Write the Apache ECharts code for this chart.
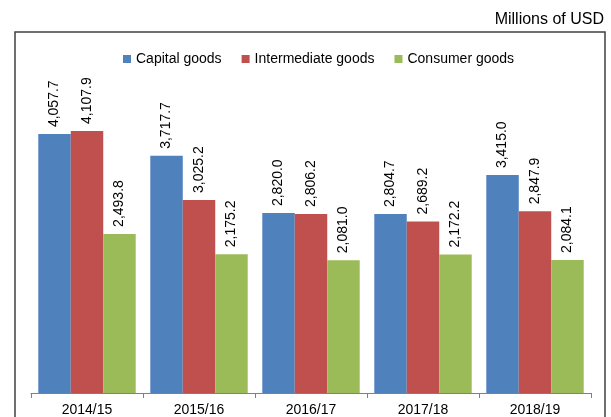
<!DOCTYPE html>
<html>
<head>
<meta charset="utf-8">
<script src="https://cdn.jsdelivr.net/npm/echarts@6/dist/echarts.min.js"></script>
<style>
  html, body { margin: 0; padding: 0; background: #fff; }
  #chart { width: 611px; height: 417px; }
</style>
</head>
<body>
<div id="chart"></div>
<script>
'use strict';
/* imports by broad category, millions of USD */

var years = ['2014/15', '2015/16', '2016/17', '2017/18', '2018/19'];
var capitalGoods = [4057.7, 3717.7, 2820.0, 2804.7, 3415.0];
var intermediateGoods = [4107.9, 3025.2, 2806.2, 2689.2, 2847.9];
var consumerGoods = [2493.8, 2175.2, 2081.0, 2172.2, 2084.1];

var fontName = 'Liberation Sans, Arial, sans-serif';

function fmt(v) {
  return v.toLocaleString('en-US', { minimumFractionDigits: 1, maximumFractionDigits: 1 });
}

var barLabel = {
  show: true,
  position: 'top',
  rotate: 90,
  align: 'left',
  verticalAlign: 'middle',
  distance: 7,
  fontFamily: fontName,
  fontSize: 14,
  color: '#000',
  formatter: function(p) {
    return fmt(p.value);
  }
};

var chart = echarts.init(document.getElementById('chart'));
var opt = {
  animation: false,
  color: ['#4F81BD', '#C0504D', '#9BBB59'],
  graphic: [{
    type: 'rect',
    shape: { x: 15, y: 32, width: 590, height: 400 },
    style: { fill: 'none', stroke: '#404040', lineWidth: 1.5 },
    silent: true
  }, {
    type: 'text',
    right: 7,
    top: 12,
    style: { text: 'Millions of USD', font: '16px ' + fontName, fill: '#000' }
  }],
  legend: {
    top: 47,
    left: 118,
    itemWidth: 8,
    itemHeight: 8,
    itemGap: 20,
    icon: 'rect',
    textStyle: { fontFamily: fontName, fontSize: 14, color: '#000' },
    data: ['Capital goods', 'Intermediate goods', 'Consumer goods']
  },
  grid: {
    left: 31,
    right: 20,
    top: 74,
    bottom: 24,
    containLabel: false
  },
  xAxis: [{
    type: 'category',
    data: years,
    axisLine: { lineStyle: { color: '#808080', width: 1 } },
    axisTick: { show: true, length: 5, lineStyle: { color: '#808080' } },
    axisLabel: { fontFamily: fontName, fontSize: 14, color: '#000', margin: 10 }
  }],
  yAxis: [{
    type: 'value',
    min: 0,
    max: 5000,
    show: false,
    splitLine: { show: false }
  }],
  series: [{
    name: 'Capital goods',
    type: 'bar',
    barGap: '0%',
    barCategoryGap: '13%',
    data: capitalGoods,
    label: barLabel
  }, {
    name: 'Intermediate goods',
    type: 'bar',
    data: intermediateGoods,
    label: barLabel
  }, {
    name: 'Consumer goods',
    type: 'bar',
    data: consumerGoods,
    label: barLabel
  }]
};

chart.setOption(opt);
</script>
</body>
</html>
